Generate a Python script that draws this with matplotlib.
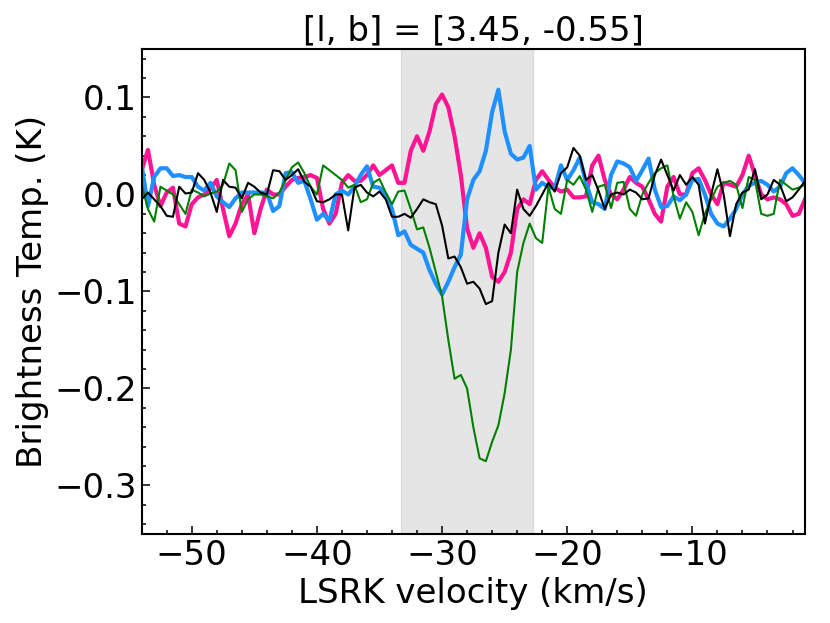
import numpy as np
import matplotlib
matplotlib.use("Agg")
import matplotlib.pyplot as plt
from matplotlib.ticker import MultipleLocator

# --- dane ---
# kanały prędkości co 0.5 km/s od -54 do -1
v_start, v_stop, v_step = -54.0, -1.0, 0.5
velocity = np.arange(v_start, v_stop + v_step / 2, v_step)

pink = [0.025, 0.046, 0.01, -0.012, 0.002, 0.007, -0.03, -0.033, -0.01, -0.003,
        0.0, 0.006, 0.015, -0.015, -0.043, -0.03, -0.01, 0.0, -0.04, -0.015,
        0.005, 0.0, 0.0, 0.008, 0.015, 0.017, 0.018, 0.02, 0.017, -0.015,
        -0.03, -0.02, 0.012, 0.02, 0.014, 0.014, 0.02, 0.03, 0.02, 0.025,
        0.03, 0.012, 0.012, 0.045, 0.06, 0.045, 0.065, 0.093, 0.103, 0.09,
        0.06, 0.02, -0.035, -0.055, -0.04, -0.055, -0.085, -0.09, -0.08, -0.06,
        -0.015, -0.005, -0.01, 0.015, 0.024, 0.015, 0.007, 0.003, 0.005, -0.003,
        -0.003, -0.002, 0.03, 0.04, 0.015, 0.0, -0.005, 0.005, 0.018, 0.012,
        0.008, -0.005, -0.02, -0.028, 0.008, 0.018, 0.0, 0.0, 0.022, 0.027,
        0.015, 0.0, -0.01, 0.012, 0.01, 0.008, 0.02, 0.04, 0.02, 0.0,
        -0.005, -0.003, -0.005, -0.01, -0.022, -0.02, -0.005]

blue = [0.03, -0.012, 0.018, 0.027, 0.027, 0.019, 0.02, 0.018, 0.018, 0.008,
        0.004, 0.012, -0.002, -0.008, -0.013, -0.004, 0.002, 0.002, 0.002, 0.002,
        0.002, -0.017, -0.012, 0.022, 0.023, 0.012, 0.014, -0.005, -0.026, -0.02,
        -0.027, 0.0, 0.004, 0.0, 0.008, 0.02, 0.029, 0.008, 0.007, 0.0,
        -0.015, -0.042, -0.038, -0.052, -0.056, -0.06, -0.078, -0.092, -0.103, -0.09,
        -0.075, -0.062, -0.005, 0.015, 0.024, 0.045, 0.085, 0.108, 0.065, 0.042,
        0.036, 0.038, 0.05, 0.005, 0.012, 0.008, 0.006, 0.03, 0.015, 0.025,
        0.038, 0.012, -0.008, -0.01, -0.015, 0.02, 0.034, 0.032, 0.028, 0.014,
        0.025, 0.037, 0.005, -0.013, -0.012, -0.002, -0.006, 0.0, 0.015, 0.016,
        0.0, -0.02, -0.03, -0.033, -0.025, -0.015, 0.0, 0.009, 0.012, 0.014,
        0.01, 0.003, 0.008, 0.022, 0.027, 0.02, 0.012]

green = [0.01, -0.015, -0.028, 0.008, 0.004, 0.0, -0.01, -0.02, 0.005, 0.002,
         -0.002, 0.001, 0.003, 0.01, 0.032, 0.025, -0.018, -0.005, 0.0, 0.0,
         -0.002, -0.004, 0.002, 0.015, 0.028, 0.033, 0.022, 0.008, 0.0, 0.03,
         0.025, 0.02, 0.015, 0.007, 0.01, -0.008, -0.005, 0.012, 0.016, 0.002,
         -0.01, 0.003, 0.004, -0.015, -0.036, -0.034, -0.055, -0.08, -0.105, -0.15,
         -0.19, -0.186, -0.2, -0.24, -0.272, -0.275, -0.255, -0.238, -0.205, -0.16,
         -0.08, -0.05, -0.03, -0.045, -0.05, 0.008, -0.015, -0.02, 0.015, 0.01,
         0.019, 0.005, -0.018, 0.008, 0.01, -0.014, 0.012, 0.013, -0.015, -0.022,
         0.0, 0.012, 0.022, 0.027, 0.03, -0.002, -0.025, -0.008, -0.018, -0.042,
         -0.02, -0.005, 0.008, 0.012, 0.014, 0.01, -0.014, 0.018, 0.015, -0.02,
         -0.022, -0.02, 0.015, 0.01, 0.005, 0.007, 0.01]

black = [-0.005, 0.002, -0.005, -0.012, -0.022, -0.023, 0.008, 0.001, 0.002, 0.022,
         0.015, 0.002, -0.018, 0.015, 0.008, 0.007, -0.004, 0.012, 0.008, 0.002,
         0.0, 0.025, 0.024, 0.015, 0.02, 0.026, 0.013, 0.008, -0.007, -0.008,
         -0.005, 0.0, 0.0, -0.037, 0.007, 0.01, 0.002, -0.002, 0.003, -0.005,
         -0.023, -0.023, -0.02, -0.024, -0.015, -0.005, -0.008, -0.01, -0.032, -0.066,
         -0.064, -0.075, -0.092, -0.09, -0.097, -0.113, -0.11, -0.06, -0.031, -0.04,
         0.005, -0.015, -0.022, -0.012, 0.0, 0.012, 0.003, 0.022, 0.028, 0.048,
         0.04, 0.015, 0.02, 0.004, -0.015, 0.0, 0.002, 0.0, 0.005, 0.002,
         -0.005, -0.004, 0.02, 0.036, 0.02, 0.004, 0.02, 0.01, 0.018, 0.01,
         -0.03, 0.0, 0.026, 0.0, -0.043, -0.01, 0.002, 0.005, 0.026, -0.005,
         0.0, 0.015, 0.01, -0.007, -0.003, 0.005, 0.014]

# zakres zaznaczony na szaro
v_window = (-33.25, -22.75)
title = "[l, b] = [3.45, -0.55]"

# --- wykres ---
plt.rcParams["font.size"] = 24.5
fig = plt.figure(figsize=(8.3, 6.23), dpi=100)
ax = fig.add_axes([0.1707, 0.1429, 0.7992, 0.7785])

ax.axvspan(v_window[0], v_window[1], color="grey", alpha=0.2)

ax.plot(velocity, pink, color="#ff1493", linewidth=3.0)
ax.plot(velocity, blue, color="#1e90ff", linewidth=3.0)
ax.plot(velocity, green, color="green", linewidth=1.5)
ax.plot(velocity, black, color="black", linewidth=1.5)

ax.set_xlim(v_start, v_stop)
ax.set_ylim(-0.35, 0.15)

ax.xaxis.set_major_locator(MultipleLocator(10))
ax.xaxis.set_minor_locator(MultipleLocator(2))
ax.yaxis.set_major_locator(MultipleLocator(0.1))
ax.yaxis.set_minor_locator(MultipleLocator(0.02))
ax.tick_params(which="both", direction="in", width=1.1)
ax.tick_params(which="major", length=5.8)
ax.tick_params(which="minor", length=3.1)
for s in ax.spines.values():
    s.set_linewidth(1.5)

ax.set_xlabel("LSRK velocity (km/s)")
ax.set_ylabel("Brightness Temp. (K)")
ax.set_title(title, fontsize=24.5)

fig.savefig("out.png", dpi=100)
